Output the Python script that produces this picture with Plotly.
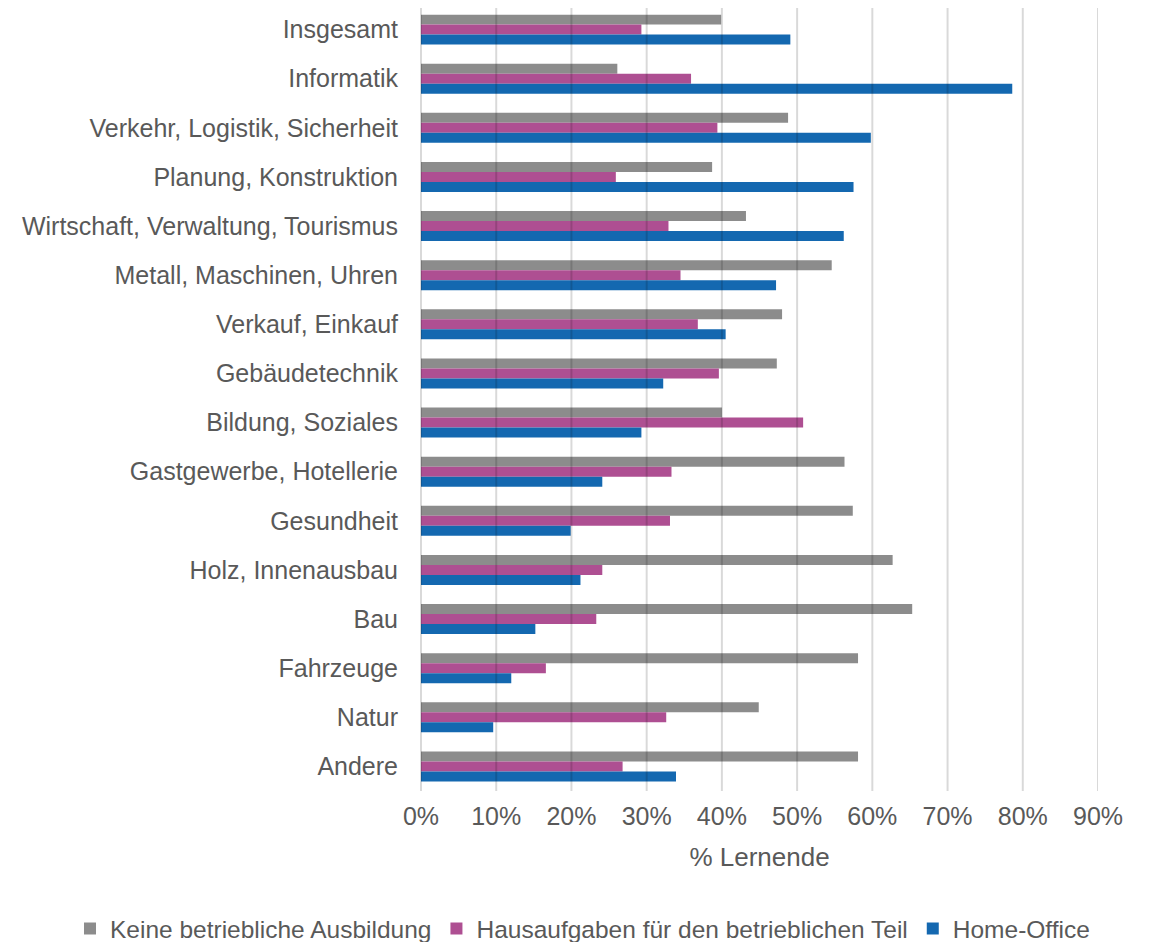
import plotly.graph_objects as go

# -------------------------------------------------
# Data (% Lernende je Berufsfeld)
# -------------------------------------------------

categories = [
    "Insgesamt",
    "Informatik",
    "Verkehr, Logistik, Sicherheit",
    "Planung, Konstruktion",
    "Wirtschaft, Verwaltung, Tourismus",
    "Metall, Maschinen, Uhren",
    "Verkauf, Einkauf",
    "Gebäudetechnik",
    "Bildung, Soziales",
    "Gastgewerbe, Hotellerie",
    "Gesundheit",
    "Holz, Innenausbau",
    "Bau",
    "Fahrzeuge",
    "Natur",
    "Andere",
]

keine_ausbildung = [39.9, 26.1, 48.8, 38.7, 43.2, 54.6, 48.0, 47.3, 40.0, 56.3, 57.4, 62.7, 65.3, 58.1, 44.9, 58.1]
hausaufgaben = [29.3, 35.9, 39.4, 25.9, 32.9, 34.5, 36.8, 39.6, 50.8, 33.3, 33.1, 24.1, 23.3, 16.6, 32.6, 26.8]
home_office = [49.1, 78.6, 59.8, 57.5, 56.2, 47.2, 40.5, 32.2, 29.3, 24.1, 19.9, 21.2, 15.2, 12.0, 9.6, 33.9]

tick_values = [0, 10, 20, 30, 40, 50, 60, 70, 80, 90]
tick_labels = [f"{v}%" for v in tick_values]

series = [
    ("Keine betriebliche Ausbildung", keine_ausbildung, "#8c8c8c"),
    ("Hausaufgaben für den betrieblichen Teil", hausaufgaben, "#ae4f92"),
    ("Home-Office", home_office, "#1468b0"),
]

FONT = "Liberation Sans, Arial, sans-serif"
TEXT = "#595959"

fig = go.Figure()
for name, values, color in series:
    fig.add_trace(go.Bar(
        y=categories,
        x=values,
        name=name,
        orientation="h",
        marker=dict(color=color, line=dict(width=0)),
    ))

# gridlines drawn over the bars, like in the source chart
for v in tick_values:
    fig.add_vline(x=v, line=dict(color="rgba(0,0,0,0.15)", width=2), layer="above")

fig.update_layout(
    width=1150,
    height=950,
    barmode="group",
    bargap=0.39,
    bargroupgap=0,
    plot_bgcolor="white",
    paper_bgcolor="white",
    font=dict(family=FONT, size=25, color=TEXT),
    margin=dict(l=413, r=60, t=0, b=167),
    xaxis=dict(
        range=[0, 90],
        tickvals=tick_values,
        ticktext=tick_labels,
        showgrid=False,
        zeroline=False,
        ticks="",
        automargin=False,
        ticklabelstandoff=8,
        title=dict(text="% Lernende", font=dict(size=26, color=TEXT), standoff=18),
    ),
    yaxis=dict(
        range=[len(categories) - 0.5, -0.44],
        showgrid=False,
        showline=True,
        linecolor="#d9d9d9",
        linewidth=1,
        ticks="",
        automargin=False,
        ticklabelstandoff=17,
    ),
    legend=dict(
        orientation="h",
        x=-0.5185,
        xanchor="left",
        y=-0.1757,
        yanchor="middle",
        font=dict(size=24.5, color=TEXT),
        itemwidth=30,
    ),
)

fig.write_html("out.html")
